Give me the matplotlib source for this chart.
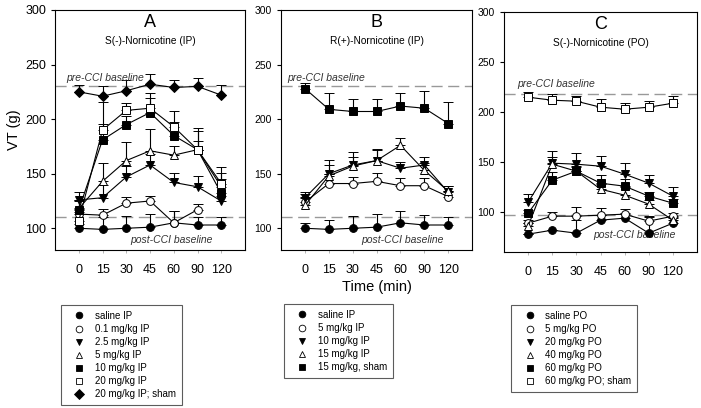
import numpy as np
import matplotlib.pyplot as plt
from matplotlib.lines import Line2D

plt.rcParams['font.family'] = ['Liberation Sans', 'DejaVu Sans']

# Data

times = [0, 15, 30, 45, 60, 90, 120]
nan = np.nan

# Panel A: S(-)-Nornicotine (IP)
labels_a = ["saline IP", "0.1 mg/kg IP", "2.5 mg/kg IP", "5 mg/kg IP",
            "10 mg/kg IP", "20 mg/kg IP", "20 mg/kg IP; sham"]
mean_a = [
    [100, 99, 100, 101, 105, 103, 103],
    [113, 112, 123, 125, 105, 117, nan],
    [126, 128, 147, 158, 142, 138, 125],
    [118, 143, 162, 171, 167, 172, 138],
    [117, 181, 195, 206, 185, 172, 132],
    [107, 190, 208, 210, 193, 172, 141],
    [225, 221, 226, 232, 229, 230, 222],
]
err_a = [
    [4, 11, 11, 12, 11, 7, 7],
    [6, 6, 6, 5, 11, 5, nan],
    [7, 12, 10, 10, 9, 10, 5],
    [8, 17, 17, 20, 8, 8, 7],
    [8, 15, 8, 13, 12, 17, 19],
    [8, 26, 7, 14, 14, 20, 15],
    [6, 9, 10, 9, 7, 8, 9],
]

# Panel B: R(+)-Nornicotine (IP)
labels_b = ["saline IP", "5 mg/kg IP", "10 mg/kg IP", "15 mg/kg IP",
            "15 mg/kg, sham"]
mean_b = [
    [100, 99, 100, 101, 105, 103, 103],
    [124, 141, 141, 143, 139, 139, 129],
    [128, 150, 158, 162, 155, 158, 133],
    [121, 148, 157, 162, 176, 153, 134],
    [228, 209, 207, 207, 212, 210, 196],
]
err_b = [
    [5, 9, 11, 12, 11, 9, 7],
    [7, 9, 6, 8, 7, 7, 5],
    [5, 13, 12, 11, 6, 7, 6],
    [8, 10, 8, 10, 7, 7, 5],
    [5, 15, 11, 11, 12, 16, 20],
]

# Panel C: S(-)-Nornicotine (PO)
labels_c = ["saline PO", "5 mg/kg PO", "20 mg/kg PO", "40 mg/kg PO",
            "60 mg/kg PO", "60 mg/kg PO; sham"]
mean_c = [
    [78, 82, 79, 92, 94, 79, 89],
    [89, 96, 96, 97, 98, 91, 96],
    [110, 149, 148, 146, 138, 129, 116],
    [86, 148, 141, 123, 117, 108, 92],
    [99, 132, 141, 129, 126, 116, 109],
    [215, 212, 211, 205, 203, 205, 209],
]
err_c = [
    [0, 0, 13, 5, 5, 16, 5],
    [3, 4, 9, 7, 5, 5, 3],
    [8, 12, 11, 10, 11, 8, 9],
    [3, 7, 5, 5, 8, 4, 3],
    [3, 8, 4, 8, 7, 4, 4],
    [5, 6, 5, 8, 6, 6, 7],
]

pre_cci = [230, 230, 218]
post_cci = [110, 110, 97]

# Marker styles (marker, face color)

styles_a = [('o', 'black'), ('o', 'white'), ('v', 'black'), ('^', 'white'),
            ('s', 'black'), ('s', 'white'), ('D', 'black')]
styles_b = [('o', 'black'), ('o', 'white'), ('v', 'black'), ('^', 'white'),
            ('s', 'black')]
styles_c = [('o', 'black'), ('o', 'white'), ('v', 'black'), ('^', 'white'),
            ('s', 'black'), ('s', 'white')]

fig = plt.figure(figsize=(7.01, 4.08), dpi=100)

ax_a = fig.add_axes([0.0785, 0.387, 0.271, 0.5885])
ax_b = fig.add_axes([0.401, 0.387, 0.2725, 0.5885])
ax_c = fig.add_axes([0.719, 0.382, 0.2753, 0.588])


def draw_panel(ax, means, errs, styles, ylo, pre, post, letter, title,
               tick_fs, pre_xy, post_xy):
    x = np.arange(len(times))
    for m, e, (mk, fc) in zip(means, errs, styles):
        m = np.array(m, dtype=float)
        e = np.array(e, dtype=float)
        ax.errorbar(x, m, yerr=[np.zeros_like(e), e], color='black',
                    lw=0.8, elinewidth=0.8, capsize=3.5, capthick=0.8,
                    marker=mk, mfc=fc, mec='black', mew=0.7,
                    ms=5.6 if mk != 'D' else 5.0, zorder=3)

    ax.axhline(pre, color='#999999', lw=1.0, dashes=(8, 4), zorder=1)
    ax.axhline(post, color='#999999', lw=1.0, dashes=(8, 4), zorder=1)

    ax.set_xlim(-1, 7)
    ax.set_ylim(ylo, 300)
    ax.set_xticks(x)
    ax.set_xticklabels([str(t) for t in times], fontsize=9)
    ax.set_yticks([100, 150, 200, 250, 300])
    ax.tick_params(axis='y', direction='out', length=3, width=0.8,
                   labelsize=tick_fs)
    ax.tick_params(axis='x', direction='out', length=2, width=0.6,
                   color='#aaaaaa', pad=8)

    ax.text(0.5, 0.95, letter, transform=ax.transAxes, ha='center',
            va='center', fontsize=13)
    ax.text(0.5, 0.87, title, transform=ax.transAxes, ha='center',
            va='center', fontsize=7.3)
    ax.text(pre_xy[0], pre_xy[1], "pre-CCI baseline", transform=ax.transAxes,
            ha='left', va='center', fontsize=7.5, style='italic',
            color='#333333')
    ax.text(post_xy[0], post_xy[1], "post-CCI baseline",
            transform=ax.transAxes, ha='right', va='center', fontsize=7.5,
            style='italic', color='#333333')


draw_panel(ax_a, mean_a, err_a, styles_a, 80, pre_cci[0], post_cci[0], "A",
           "S(-)-Nornicotine (IP)", 9, (0.06, 0.717), (0.83, 0.04))
draw_panel(ax_b, mean_b, err_b, styles_b, 80, pre_cci[1], post_cci[1], "B",
           "R(+)-Nornicotine (IP)", 7.5, (0.03, 0.717), (0.85, 0.04))
draw_panel(ax_c, mean_c, err_c, styles_c, 60, pre_cci[2], post_cci[2], "C",
           "S(-)-Nornicotine (PO)", 7.5, (0.07, 0.70), (0.89, 0.07))

ax_a.set_ylabel("VT (g)", fontsize=10.5, labelpad=3)
ax_b.set_xlabel("Time (min)", fontsize=10.5, labelpad=3)


# Legends below each panel

def add_legend(labels, styles, anchor):
    handles = [Line2D([], [], linestyle='none', marker=mk, mfc=fc,
                      mec='black', mew=0.6, ms=4.8)
               for mk, fc in styles]
    leg = fig.legend(handles, labels, loc='upper left', bbox_to_anchor=anchor,
                     frameon=True, fancybox=False, fontsize=7,
                     handlelength=2.6, handletextpad=0.3, borderpad=0.6,
                     labelspacing=0.32, borderaxespad=0)
    leg.get_frame().set_edgecolor('#333333')
    leg.get_frame().set_linewidth(0.8)


add_legend(labels_a, styles_a, (0.087, 0.2525))
add_legend(labels_b, styles_b, (0.405, 0.255))
add_legend(labels_c, styles_c, (0.729, 0.2525))

fig.savefig("out.png", dpi=100)
